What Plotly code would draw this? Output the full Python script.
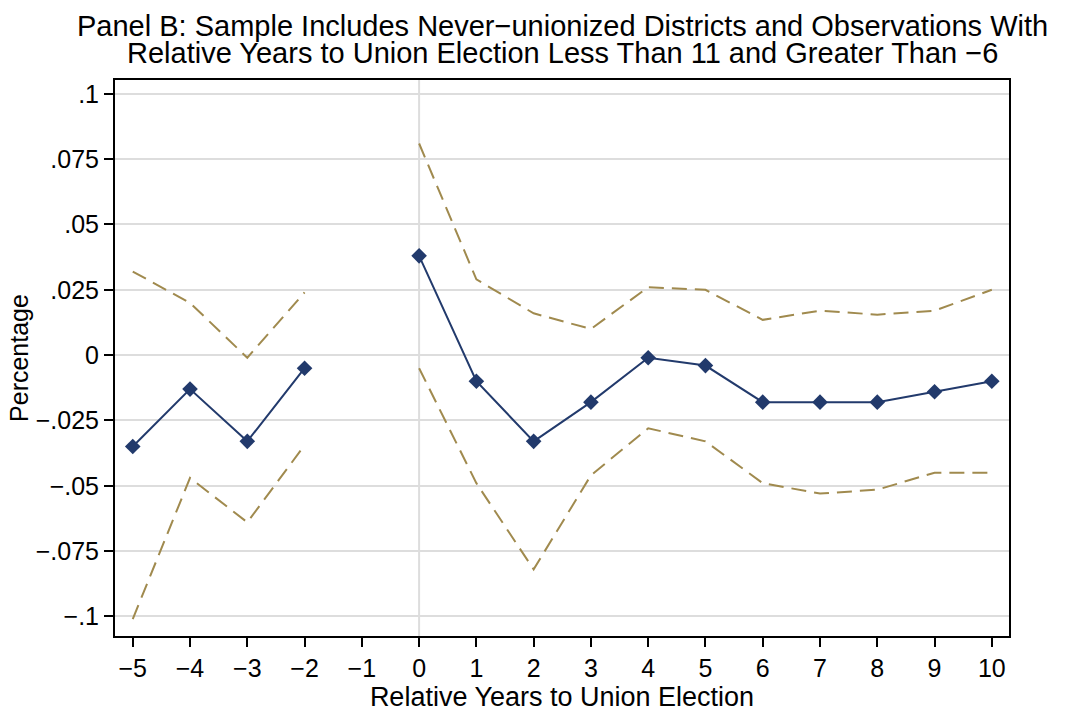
import plotly.graph_objects as go

years = [-5, -4, -3, -2, -1, 0, 1, 2, 3, 4, 5, 6, 7, 8, 9, 10]
estimate = [-0.035, -0.013, -0.033, -0.005, None, 0.038, -0.010, -0.033, -0.018, -0.001,
            -0.004, -0.018, -0.018, -0.018, -0.014, -0.010]
upper_ci = [0.032, 0.020, -0.001, 0.024, None, 0.081, 0.029, 0.016, 0.010, 0.026,
            0.025, 0.0135, 0.017, 0.0155, 0.017, 0.025]
lower_ci = [-0.101, -0.047, -0.064, -0.0345, None, -0.005, -0.049, -0.082, -0.046, -0.028,
            -0.033, -0.049, -0.053, -0.0515, -0.045, -0.045]

y_tickvals = [0.1, 0.075, 0.05, 0.025, 0, -0.025, -0.05, -0.075, -0.1]
y_ticktext = [".1", ".075", ".05", ".025", "0", "\u2212.025", "\u2212.05", "\u2212.075", "\u2212.1"]
x_ticktext = [str(v).replace("-", "\u2212") for v in years]

title_lines = [
    "Panel B: Sample Includes Never\u2212unionized Districts and Observations With",
    "Relative Years to Union Election Less Than 11 and Greater Than \u22126",
]

navy = "#223a6c"
gold = "#a08a4e"
font = "Liberation Sans, Arial, sans-serif"

fig = go.Figure()
fig.add_trace(go.Scatter(x=years, y=upper_ci, mode="lines", connectgaps=False,
                         line=dict(color=gold, width=2, dash="15px,8px"), showlegend=False))
fig.add_trace(go.Scatter(x=years, y=lower_ci, mode="lines", connectgaps=False,
                         line=dict(color=gold, width=2, dash="15px,8px"), showlegend=False))
fig.add_trace(go.Scatter(x=years, y=estimate, mode="lines+markers", connectgaps=False,
                         line=dict(color=navy, width=2),
                         marker=dict(symbol="diamond", size=12, color=navy),
                         showlegend=False))

fig.add_shape(type="line", x0=0, x1=0, y0=0, y1=1, xref="x", yref="paper",
              line=dict(color="#dddddd", width=2), layer="below")

# title lines as annotations (pixel rows converted to paper coords: plot spans 80..646 px)
plot_top, plot_bottom = 80, 646
for text, ypx in zip(title_lines, [25.5, 53]):
    fig.add_annotation(text=text, xref="paper", yref="paper", x=0.5,
                       y=(plot_bottom - ypx) / (plot_bottom - plot_top),
                       xanchor="center", yanchor="middle", showarrow=False,
                       font=dict(size=29, family=font, color="black"))

fig.update_layout(
    width=1065, height=713,
    paper_bgcolor="white", plot_bgcolor="white",
    margin=dict(l=115, r=56, t=80, b=67),
    font=dict(family=font, color="black", size=25),
    xaxis=dict(
        range=[-5.31, 10.3], tickmode="array", tickvals=years, ticktext=x_ticktext,
        showgrid=False, zeroline=False, showline=True, linecolor="black", linewidth=2,
        mirror=True, ticks="outside", ticklen=9, tickwidth=1.5, tickcolor="black",
        title=dict(text="Relative Years to Union Election", standoff=0, font=dict(size=27)),
        tickfont=dict(size=25),
    ),
    yaxis=dict(
        range=[-0.1075, 0.1053], tickmode="array", tickvals=y_tickvals, ticktext=y_ticktext,
        showgrid=True, gridcolor="#dddddd", gridwidth=2, zeroline=False,
        showline=True, linecolor="black", linewidth=2, mirror=True,
        ticks="outside", ticklen=9, tickwidth=1.5, tickcolor="black",
        title=dict(text="Percentage", standoff=0, font=dict(size=25)),
        tickfont=dict(size=25),
    ),
)

fig.write_html("out.html")
